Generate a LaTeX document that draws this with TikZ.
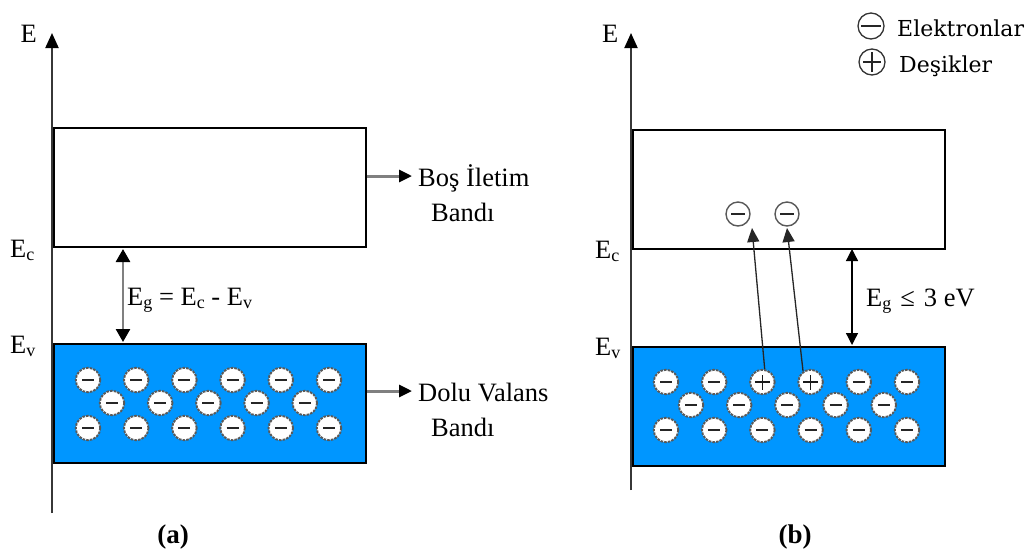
\documentclass[tikz,border=0pt]{standalone}
\usepackage{fontspec}
\setmainfont{Liberation Serif}
\newfontfamily\legfont{DejaVu Serif}
\usetikzlibrary{arrows.meta}
\definecolor{bandblue}{RGB}{0,150,255}
\definecolor{axisgray}{RGB}{55,55,55}
\definecolor{arrgray}{RGB}{128,128,128}
\newcommand{\sbs}[1]{\raisebox{-3.5pt}{\fontsize{18}{18}\selectfont #1}}
\begin{document}
\begin{tikzpicture}[x=1pt,y=-1pt,
  lbl/.style={font=\fontsize{26.5}{32}\selectfont, inner sep=0pt},
  leg/.style={font=\legfont\fontsize{22}{26}\selectfont, inner sep=0pt, anchor=base west},
  bold/.style={font=\fontsize{27}{32}\selectfont\bfseries, inner sep=0pt},
  bandbox/.style={draw=black, line width=1.8pt, inner sep=0pt, anchor=north west, minimum width=312pt, minimum height=119pt},
  elec/.style={circle, fill=white, draw=black!65, line width=1.9pt, dash pattern=on 2.6pt off 1.1pt, minimum size=24.5pt, inner sep=0pt},
  minus/.style={path picture={\draw[black!85, line width=2.2pt, solid] ([xshift=-6pt]path picture bounding box.center) -- ([xshift=6pt]path picture bounding box.center);}},
  plus/.style={path picture={\draw[black!90, line width=1.7pt, solid] ([xshift=-7.5pt]path picture bounding box.center) -- ([xshift=7.5pt]path picture bounding box.center) ([yshift=-7.5pt]path picture bounding box.center) -- ([yshift=7.5pt]path picture bounding box.center);}},
  freeel/.style={circle, fill=white, draw=black!65, line width=1.4pt, minimum size=24pt, inner sep=0pt, path picture={\draw[black!85, line width=1.5pt] ([xshift=-7pt]path picture bounding box.center) -- ([xshift=7pt]path picture bounding box.center);}},
  legcirc/.style={circle, draw=black!80, line width=1.3pt, minimum size=26pt, inner sep=0pt},
  legminus/.style={path picture={\draw[black!85, line width=1.3pt] ([xshift=-10pt]path picture bounding box.center) -- ([xshift=10pt]path picture bounding box.center);}},
  legplus/.style={path picture={\draw[black!85, line width=1.3pt] ([xshift=-9pt]path picture bounding box.center) -- ([xshift=9pt]path picture bounding box.center) ([yshift=-10pt]path picture bounding box.center) -- ([yshift=10pt]path picture bounding box.center);}},
  axisline/.style={draw=axisgray, line width=2pt, -{Triangle[length=15pt,width=13pt,color=black]}},
  grayarrow/.style={draw=arrgray, line width=3pt, -{Triangle[length=13pt,width=12pt,color=black]}},
  graydbl/.style={draw=arrgray, line width=2.6pt, {Triangle[length=13pt,width=14pt,color=black]}-{Triangle[length=13pt,width=14pt,color=black]}},
  blackdbl/.style={draw=black, line width=1.3pt, {Triangle[length=12pt,width=12pt]}-{Triangle[length=12pt,width=12pt]}},
  excite/.style={draw=black!85, line width=1.3pt, -{Triangle[length=14pt,width=12pt]}}
]
\useasboundingbox (0,0) rectangle (1032,558);
\fill[white] (0,0) rectangle (1032,558);

% ---------------- panel (a) ----------------
\coordinate (axa0) at (52,513);
\coordinate (axa1) at (52,33);
\draw[axisline] (axa0) -- (axa1);
\node[bandbox] (cba) at (53,127) {};
\node[bandbox, fill=bandblue] (vba) at (53,343) {};

\node[lbl, anchor=base east] (Ea) at (37,42) {E};
\node[lbl, anchor=base west] (Eca) at (10,257) {E\sbs{c}};
\node[lbl, anchor=base west] (Eva) at (10,353) {E\sbs{v}};

\coordinate (ga0) at (123,249);
\coordinate (ga1) at (123,342);
\draw[graydbl] (ga0) -- (ga1);
\node[lbl, anchor=base west] (Ega) at (127,305) {E\sbs{g} = E\sbs{c} - E\sbs{v}};

\node[lbl, anchor=base west] (cbt1) at (418,186) {Boş İletim};
\node[lbl, anchor=base west] (cbt2) at (431,221) {Bandı};
\coordinate (cbtip) at (412,176);
\draw[grayarrow] (cba.east |- cbtip) -- (cbtip);

\node[lbl, anchor=base west] (vbt1) at (418,401) {Dolu Valans};
\node[lbl, anchor=base west] (vbt2) at (431,436) {Bandı};
\coordinate (vbtip) at (412,391);
\draw[grayarrow] (vba.east |- vbtip) -- (vbtip);

\foreach \i in {0,...,5} {
  \node[elec, minus] (ar1\i) at (88+48.2*\i,380) {};
  \node[elec, minus] (ar3\i) at (88+48.2*\i,428) {};
}
\foreach \i in {0,...,4} {
  \node[elec, minus] (ar2\i) at (112+48.2*\i,403) {};
}
\node[bold] (laba) at (173,537) {(a)};

% ---------------- panel (b) ----------------
\coordinate (axb0) at (631,490);
\coordinate (axb1) at (631,33);
\draw[axisline] (axb0) -- (axb1);
\node[bandbox] (cbb) at (632,129) {};
\node[bandbox, fill=bandblue] (vbb) at (632,346) {};

\node[lbl, anchor=base west] (Eb) at (602,42) {E};
\node[lbl, anchor=base west] (Ecb) at (595,258) {E\sbs{c}};
\node[lbl, anchor=base west] (Evb) at (595,355) {E\sbs{v}};

\coordinate (gb0) at (852,249);
\coordinate (gb1) at (852,345);
\draw[blackdbl] (gb0) -- (gb1);
\node[lbl, anchor=base west] (Egb) at (866,306) {E\sbs{g}\hspace{9pt}≤\hspace{9pt}3 eV};

\foreach \i in {0,1,4,5} {
  \node[elec, minus] (br1\i) at (666+48.2*\i,382) {};
}
\node[elec, plus] (br12) at (762.4,382) {};
\node[elec, plus] (br13) at (810.6,382) {};
\foreach \i in {0,...,5} {
  \node[elec, minus] (br3\i) at (666+48.2*\i,430) {};
}
\foreach \i in {0,...,4} {
  \node[elec, minus] (br2\i) at (691+48.2*\i,405) {};
}

\node[freeel] (fe1) at (738,214) {};
\node[freeel] (fe2) at (787,214) {};
\coordinate (et1) at (752,228);
\coordinate (et2) at (787,228);
\draw[excite] (br12.80) -- (et1);
\draw[excite] (br13.125) -- (et2);

\node[bold] (labb) at (795,537) {(b)};

% legend
\node[legcirc, legminus] (lgm) at (871,26) {};
\node[legcirc, legplus] (lgp) at (872,62) {};
\node[leg] (lgt1) at (897,36) {Elektronlar};
\node[leg] (lgt2) at (899,72) {Deşikler};
\end{tikzpicture}
\end{document}
